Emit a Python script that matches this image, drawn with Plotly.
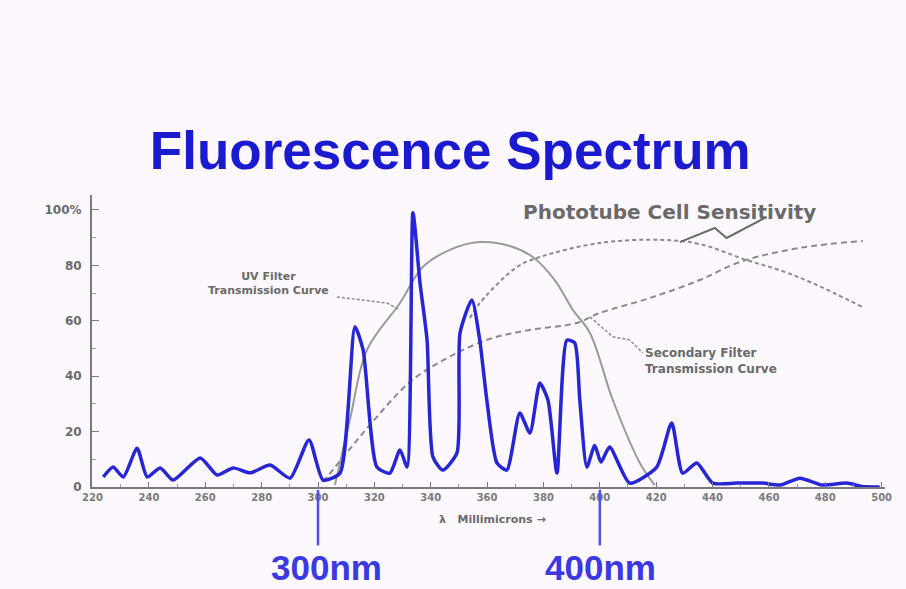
import plotly.graph_objects as go

# ---- data (wavelength in nm, relative intensity in %) ----
spec_nm = [223.8, 227.3, 230.9, 235.8, 239.4, 244.0, 248.6, 258.2, 264.2, 269.9, 275.9, 283.0,
           290.1, 296.8, 301.8, 307.8, 313.1, 316.0, 320.9, 325.5, 329.1, 331.6, 333.7, 336.2,
           338.7, 340.8, 344.3, 349.3, 350.4, 354.6, 357.4, 359.9, 363.5, 367.0, 371.6, 375.2,
           378.7, 381.6, 384.8, 388.3, 391.1, 392.9, 395.4, 398.2, 400.4, 403.5, 410.6, 420.2,
           425.5, 429.4, 434.4, 440.1, 448.5, 457.8, 464.0, 471.0, 479.0, 487.6, 493.0, 499.3]
spec_val = [3.6, 7.2, 3.6, 14.0, 3.6, 6.9, 2.5, 10.5, 4.3, 6.9, 5.1, 7.9,
            3.2, 17.0, 2.5, 5.0, 57.8, 49.5, 7.2, 5.0, 13.4, 7.2, 99.0, 73.6,
            53.0, 10.8, 6.1, 12.3, 55.6, 67.5, 53.0, 31.4, 8.7, 6.1, 26.7, 19.5,
            37.5, 31.4, 5.0, 53.0, 52.0, 31.4, 7.2, 15.0, 9.0, 14.4, 1.4, 7.2,
            23.1, 5.0, 8.7, 1.4, 1.4, 1.4, 0.7, 3.2, 0.7, 1.4, 0.2, 0.0]

primary_nm = [306.0, 311.3, 317.4, 329.1, 337.2, 346.8, 357.4, 368.1, 376.2, 384.0, 390.4, 396.5, 404.6, 414.2, 419.5]
primary_val = [0.7, 24.2, 49.5, 66.4, 79.4, 85.6, 88.4, 87.0, 83.0, 74.7, 64.0, 55.6, 31.4, 8.7, 0.7]

secondary_nm = [301.8, 309.6, 318.4, 332.6, 343.3, 359.9, 375.2, 391.8, 400.0, 417.7, 435.5, 449.6, 470.9, 493.3]
secondary_val = [1.8, 11.6, 22.4, 37.9, 45.1, 53.1, 56.7, 59.2, 62.8, 68.2, 74.7, 81.2, 86.3, 88.8]

tube_nm = [353.9, 357.4, 370.6, 378.7, 400.0, 422.3, 435.5, 452.1, 463.8, 475.5, 493.3]
tube_val = [61.0, 66.4, 79.4, 83.0, 88.1, 89.2, 87.7, 81.9, 78.3, 73.6, 64.9]

x_ticks = [220, 240, 260, 280, 300, 320, 340, 360, 380, 400, 420, 440, 460, 480, 500]
y_ticks = [0, 20, 40, 60, 80, 100]
y_tick_text = ["0", "20", "40", "60", "80", "100%"]
marked_nm = [300, 400]
marked_text = ["300nm", "400nm"]
marked_shift = [8, 1]

BG = "#fdf8fd"
GREY = "#8a8a8a"
TXT = "#6a6a6a"
BLUE = "#2626d4"

fig = go.Figure()
fig.add_trace(go.Scatter(x=primary_nm, y=primary_val, mode="lines",
                         line=dict(color="#9a9a9a", width=2, shape="spline"), hoverinfo="skip"))
fig.add_trace(go.Scatter(x=secondary_nm, y=secondary_val, mode="lines",
                         line=dict(color=GREY, width=2, dash="6px,4px", shape="spline"), hoverinfo="skip"))
fig.add_trace(go.Scatter(x=tube_nm, y=tube_val, mode="lines",
                         line=dict(color=GREY, width=2, dash="4px,3px", shape="spline"), hoverinfo="skip"))
fig.add_trace(go.Scatter(x=spec_nm, y=spec_val, mode="lines",
                         line=dict(color=BLUE, width=3.5, shape="spline", smoothing=0.6)))

# leader lines for labels
fig.add_trace(go.Scatter(x=[306.7, 324.5, 329.1], y=[68.6, 66.4, 63.9], mode="lines",
                         line=dict(color=GREY, width=1.5, dash="3px,2px"), hoverinfo="skip"))
fig.add_trace(go.Scatter(x=[396.5, 404.6, 410.6, 415.2], y=[61.4, 54.2, 53.1, 48.4], mode="lines",
                         line=dict(color=GREY, width=1.5, dash="3px,2px"), hoverinfo="skip"))
fig.add_trace(go.Scatter(x=[428.4, 440.8, 445.0, 459.2], y=[88.4, 93.5, 89.9, 97.5], mode="lines",
                         line=dict(color="#6a6a6a", width=2), hoverinfo="skip"))

font_lbl = "DejaVu Sans"
annotations = [
    dict(x=424.8, y=99.3, xref="x", yref="y", text="<b>Phototube Cell Sensitivity</b>",
         showarrow=False, font=dict(family=font_lbl, size=20, color=TXT)),
    dict(x=282.5, y=73.6, xref="x", yref="y", text="<b>UV Filter<br>Transmission Curve</b>",
         showarrow=False, align="center", font=dict(family=font_lbl, size=11, color=TXT)),
    dict(x=415.5, y=45.5, xref="x", yref="y", xanchor="left",
         text="<b>Secondary Filter<br>Transmission Curve</b>",
         showarrow=False, align="left", font=dict(family=font_lbl, size=12, color=TXT)),
    dict(x=362, y=-0.113, xref="x", yref="paper", yanchor="middle",
         text="<b>λ   Millimicrons →</b>",
         showarrow=False, font=dict(family=font_lbl, size=11, color=TXT)),
]
shapes = []
for nm, t, sh in zip(marked_nm, marked_text, marked_shift):
    shapes.append(dict(type="line", xref="x", yref="paper", x0=nm, x1=nm, y0=-0.01, y1=-0.2,
                       line=dict(color="#5050e6", width=2.5)))
    annotations.append(dict(x=nm, y=-0.277, xref="x", yref="paper", yanchor="middle",
                            xshift=sh, text=f"<b>{t}</b>", showarrow=False,
                            font=dict(family="Liberation Sans", size=35, color="#3a3ae2")))

fig.update_layout(
    width=906, height=589,
    paper_bgcolor=BG, plot_bgcolor=BG,
    margin=dict(l=92, r=21, t=195, b=102),
    showlegend=False,
    title=dict(text="<b>Fluorescence Spectrum</b>", x=0.497, xanchor="center",
               y=0.745, yanchor="middle",
               font=dict(family="Liberation Sans", size=53, color="#1a1ad0")),
    annotations=annotations,
    shapes=shapes,
)
fig.update_xaxes(range=[219.8, 501.2], showgrid=False, zeroline=False,
                 showline=True, linecolor="#7a7a7a", linewidth=2,
                 tickvals=x_ticks, ticktext=[f"<b>{v}</b>" for v in x_ticks],
                 ticks="inside", ticklen=5, tickcolor="#7a7a7a",
                 minor=dict(dtick=10, tick0=220, ticks="inside", ticklen=3, tickcolor="#9a9a9a"),
                 tickfont=dict(family=font_lbl, size=10, color="#7a7a7a"))
fig.update_yaxes(range=[0, 105.4], showgrid=False, zeroline=False,
                 showline=True, linecolor="#7a7a7a", linewidth=2,
                 tickvals=y_ticks, ticktext=[f"<b>{t}</b>" for t in y_tick_text],
                 ticks="inside", ticklen=7,
                 tickcolor="#7a7a7a", ticklabelstandoff=6,
                 minor=dict(dtick=10, ticks="inside", ticklen=4, tickcolor="#9a9a9a"),
                 tickfont=dict(family=font_lbl, size=12, color="#6a6a6a"))

fig.write_html("out.html", config={"displayModeBar": False},
               post_script="document.body.style.margin='0';"
                           "document.body.style.background='" + BG + "';")
